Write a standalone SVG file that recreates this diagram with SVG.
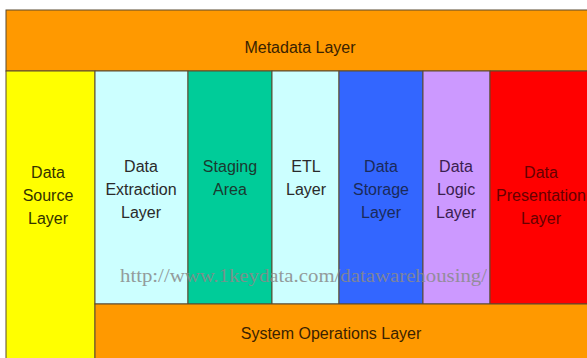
<svg xmlns="http://www.w3.org/2000/svg" width="587" height="358" viewBox="0 0 587 358">
<style>
.b{stroke:#5a4a30;stroke-width:1}
.t{font-family:"Liberation Sans",Arial,sans-serif;font-size:16px;text-anchor:middle}
.w{font-family:"Liberation Serif","Times New Roman",serif;font-size:18px;fill:#8a8a8a;opacity:0.85}
</style>
<rect x="0" y="0" width="587" height="358" fill="#ffffff"/>
<g id="metadata">
<rect class="b" x="6" y="10" width="590" height="61" fill="#FF9900"/>
<text class="t" x="300" y="53" fill="#3a2200">Metadata Layer</text>
</g>
<g id="source">
<rect class="b" x="6" y="71" width="89" height="300" fill="#FFFF00"/>
<text class="t" x="48" y="178" fill="#333300"><tspan x="48">Data</tspan><tspan x="48" dy="23">Source</tspan><tspan x="48" dy="23">Layer</tspan></text>
</g>
<g id="extraction">
<rect class="b" x="95" y="71" width="93" height="233" fill="#CCFFFF"/>
<text class="t" x="141" y="172" fill="#2a2a2a"><tspan x="141">Data</tspan><tspan x="141" dy="23">Extraction</tspan><tspan x="141" dy="23">Layer</tspan></text>
</g>
<g id="staging">
<rect class="b" x="188" y="71" width="84" height="233" fill="#00CC99"/>
<text class="t" x="230" y="172" fill="#1a3a30"><tspan x="230">Staging</tspan><tspan x="230" dy="23">Area</tspan></text>
</g>
<g id="etl">
<rect class="b" x="272" y="71" width="67" height="233" fill="#CCFFFF"/>
<text class="t" x="306" y="172" fill="#2a2a2a"><tspan x="306">ETL</tspan><tspan x="306" dy="23">Layer</tspan></text>
</g>
<g id="storage">
<rect class="b" x="339" y="71" width="84" height="233" fill="#3366FF"/>
<text class="t" x="381" y="172" fill="#1a2a5a"><tspan x="381">Data</tspan><tspan x="381" dy="23">Storage</tspan><tspan x="381" dy="23">Layer</tspan></text>
</g>
<g id="logic">
<rect class="b" x="423" y="71" width="67" height="233" fill="#CC99FF"/>
<text class="t" x="456" y="172" fill="#3a2050"><tspan x="456">Data</tspan><tspan x="456" dy="23">Logic</tspan><tspan x="456" dy="23">Layer</tspan></text>
</g>
<g id="presentation">
<rect class="b" x="490" y="71" width="110" height="233" fill="#FF0000"/>
<text class="t" x="541" y="178" fill="#660000"><tspan x="541">Data</tspan><tspan x="541" dy="23">Presentation</tspan><tspan x="541" dy="23">Layer</tspan></text>
</g>
<g id="sysops">
<rect class="b" x="95" y="304" width="500" height="60" fill="#FF9900"/>
<text class="t" x="331" y="339" fill="#3a2200">System Operations Layer</text>
</g>
<g id="watermark">
<text class="w" x="120" y="282" textLength="367" lengthAdjust="spacingAndGlyphs">http://www.1keydata.com/datawarehousing/</text>
</g>
</svg>
